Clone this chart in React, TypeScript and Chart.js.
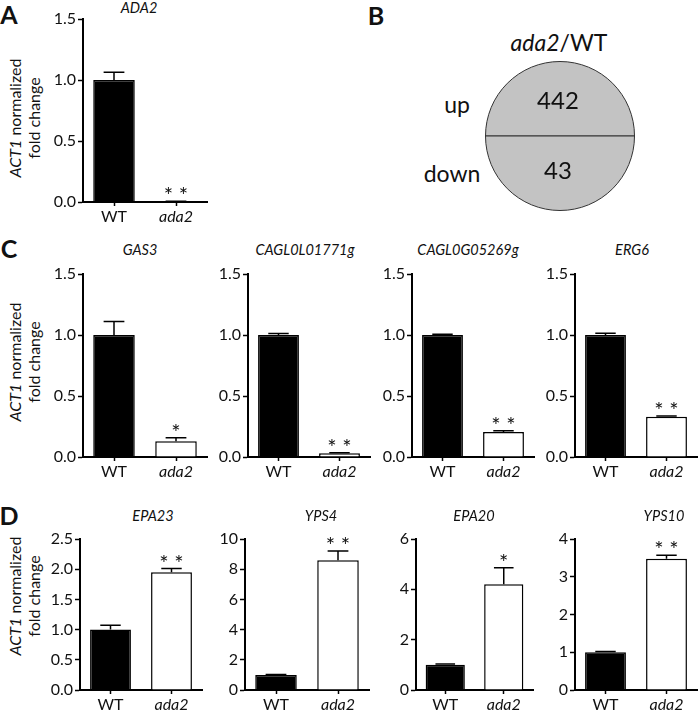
import React, { useEffect, useRef } from 'react';
import { Chart, registerables } from 'chart.js';

Chart.register(...registerables);

const FONT = "Lato, 'Open Sans', sans-serif";

// ---------- data ----------
const groups = ['WT', 'ada2'];

const titleA = 'ADA2';
const meanA = [1.0, 0.004];
const errA = [0.063, 0.002];
const starsA = ['', '* *'];
const yMaxA = 1.5;
const yStepA = 0.5;

const genesC = ['GAS3', 'CAGL0L01771g', 'CAGL0G05269g', 'ERG6'];
const meansC = [[1.0, 0.13], [1.0, 0.03], [1.0, 0.205], [1.0, 0.33]];
const errsC = [[0.11, 0.027], [0.012, 0.004], [0.007, 0.01], [0.014, 0.006]];
const starsC = [['', '*'], ['', '* *'], ['', '* *'], ['', '* *']];
const yMaxC = [1.5, 1.5, 1.5, 1.5];
const yStepC = [0.5, 0.5, 0.5, 0.5];

const genesD = ['EPA23', 'YPS4', 'EPA20', 'YPS10'];
const meansD = [[1.0, 1.95], [1.0, 8.6], [1.0, 4.2], [1.0, 3.48]];
const errsD = [[0.07, 0.06], [0.03, 0.6], [0.03, 0.66], [0.02, 0.09]];
const starsD = [['', '* *'], ['', '* *'], ['', '*'], ['', '* *']];
const yMaxD = [2.5, 10, 6, 4];
const yStepD = [0.5, 2, 2, 1];
const decimalsD = [1, 0, 0, 0];

const vennLabels = ['up', 'down'];
const vennCounts = [442, 43];

// ---------- layout (page pixels) ----------
const boxA = { axisX: 83, axisEnd: 207, top: 19, bottom: 202 };
const boxesC = [
  { axisX: 83, axisEnd: 207, top: 274, bottom: 457 },
  { axisX: 248, axisEnd: 370, top: 274, bottom: 457 },
  { axisX: 412, axisEnd: 534, top: 274, bottom: 457 },
  { axisX: 575, axisEnd: 697, top: 274, bottom: 457 },
];
const boxesD = [
  { axisX: 80, axisEnd: 202, top: 539, bottom: 690 },
  { axisX: 245, axisEnd: 369, top: 539, bottom: 690 },
  { axisX: 416, axisEnd: 533, top: 539, bottom: 690 },
  { axisX: 575, axisEnd: 697, top: 539, bottom: 690 },
];
const titlePosC = [140, 305, 468, 632];
const titlePosD = [153, 321, 474, 664];

type Box = { axisX: number; axisEnd: number; top: number; bottom: number };

function BarPanel(props: {
  box: Box;
  means: number[];
  errs: number[];
  stars: string[];
  yMax: number;
  yStep: number;
  decimals: number;
}) {
  const { box, means, errs, stars, yMax, yStep, decimals } = props;
  const ref = useRef<HTMLCanvasElement>(null);
  const PADL = 64, PADT = 16, PADR = 2, PADB = 34;
  const x0 = box.axisX - PADL;
  const y0 = box.top - PADT;
  const w = box.axisEnd + PADR - x0;
  const h = box.bottom + PADB - y0;

  useEffect(() => {
    const errPlugin = {
      id: 'errbars',
      afterDatasetsDraw(chart: any) {
        const ctx = chart.ctx;
        const meta = chart.getDatasetMeta(0);
        const ys = chart.scales.y;
        ctx.save();
        meta.data.forEach((bar: any, i: number) => {
          const top = ys.getPixelForValue(means[i] + errs[i]);
          const capW = bar.width * 0.5;
          ctx.strokeStyle = '#000';
          ctx.lineWidth = 1.5;
          ctx.beginPath();
          ctx.moveTo(bar.x, bar.y);
          ctx.lineTo(bar.x, top);
          ctx.moveTo(bar.x - capW / 2, top);
          ctx.lineTo(bar.x + capW / 2, top);
          ctx.stroke();
          if (stars[i]) {
            ctx.fillStyle = '#111';
            ctx.font = `22px ${FONT}`;
            ctx.textAlign = 'center';
            ctx.textBaseline = 'alphabetic';
            ctx.fillText(stars[i], bar.x, top + 2);
          }
        });
        ctx.restore();
      },
    };
    const chart = new Chart(ref.current as HTMLCanvasElement, {
      type: 'bar',
      data: {
        labels: groups,
        datasets: [
          {
            data: means,
            backgroundColor: ['#000', '#fff'],
            borderColor: '#000',
            borderWidth: 1.5,
            barPercentage: 0.67,
            categoryPercentage: 1,
          },
        ],
      },
      options: {
        responsive: false,
        animation: false,
        layout: { padding: { top: PADT, right: PADR, left: 0, bottom: 0 } },
        plugins: { legend: { display: false }, tooltip: { enabled: false } },
        scales: {
          x: {
            grid: {
              display: true,
              drawOnChartArea: false,
              offset: false,
              tickLength: 4,
              tickColor: '#000',
              tickWidth: 1.5,
            },
            border: { display: true, color: '#000', width: 2 },
            ticks: {
              color: '#111',
              padding: 1,
              font: (c: any) => ({
                family: FONT,
                size: 16,
                style: c.index === 1 ? 'italic' : 'normal',
              }),
            },
            afterFit: (s: any) => {
              s.height = PADB;
            },
          },
          y: {
            min: 0,
            max: yMax,
            ticks: {
              stepSize: yStep,
              color: '#111',
              padding: 2,
              font: { family: FONT, size: 16 },
              callback: (v: any) => Number(v).toFixed(decimals),
            },
            grid: {
              drawOnChartArea: false,
              tickLength: 5,
              tickColor: '#000',
              tickWidth: 1.5,
            },
            border: { display: true, color: '#000', width: 2 },
            afterFit: (s: any) => {
              s.width = PADL;
            },
          },
        },
      } as any,
      plugins: [errPlugin],
    });
    return () => chart.destroy();
  }, []);

  return (
    <canvas
      ref={ref}
      width={w}
      height={h}
      style={{ position: 'absolute', left: x0, top: y0, width: w, height: h }}
    />
  );
}

function VennPanel() {
  const ref = useRef<HTMLCanvasElement>(null);
  const cx = 560, cy = 136, size = 150;
  useEffect(() => {
    const numPlugin = {
      id: 'nums',
      afterDatasetsDraw(chart: any) {
        const ctx = chart.ctx;
        const meta = chart.getDatasetMeta(0);
        ctx.save();
        ctx.fillStyle = '#111';
        ctx.font = `24px ${FONT}`;
        ctx.textAlign = 'center';
        ctx.textBaseline = 'middle';
        meta.data.forEach((arc: any, i: number) => {
          const p = arc.getCenterPoint();
          ctx.fillText(String(vennCounts[i]), p.x - 2, p.y + (i === 0 ? 3 : -2));
        });
        ctx.restore();
      },
    };
    const chart = new Chart(ref.current as HTMLCanvasElement, {
      type: 'pie',
      data: {
        labels: vennLabels,
        datasets: [
          {
            data: vennCounts.map(() => 1),
            backgroundColor: '#c3c3c3',
            borderColor: '#333',
            borderWidth: 1,
          },
        ],
      },
      options: {
        responsive: false,
        animation: false,
        rotation: -90,
        layout: { padding: 0 },
        plugins: { legend: { display: false }, tooltip: { enabled: false } },
      } as any,
      plugins: [numPlugin],
    });
    return () => chart.destroy();
  }, []);
  return (
    <canvas
      ref={ref}
      width={size}
      height={size}
      style={{ position: 'absolute', left: cx - size / 2, top: cy - size / 2, width: size, height: size }}
    />
  );
}

function Txt(props: { x: number; y: number; size: number; bold?: boolean; italic?: boolean; children: any }) {
  return (
    <div
      style={{
        position: 'absolute',
        left: props.x,
        top: props.y,
        transform: 'translate(-50%, -50%)',
        fontFamily: FONT,
        fontSize: props.size,
        fontWeight: props.bold ? 700 : 400,
        fontStyle: props.italic ? 'italic' : 'normal',
        lineHeight: 1,
        whiteSpace: 'nowrap',
        color: '#111',
      }}
    >
      {props.children}
    </div>
  );
}

function YTitle(props: { y: number }) {
  return (
    <div
      style={{
        position: 'absolute',
        left: 24,
        top: props.y,
        transform: 'translate(-50%, -50%) rotate(-90deg)',
        fontFamily: FONT,
        fontSize: 16,
        lineHeight: '19px',
        textAlign: 'center',
        whiteSpace: 'nowrap',
        color: '#111',
      }}
    >
      <div>
        <i>ACT1</i> normalized
      </div>
      <div>fold change</div>
    </div>
  );
}

export default function App() {
  return (
    <div
      style={{
        position: 'absolute',
        left: 0,
        top: 0,
        width: 700,
        height: 712,
        background: '#fff',
        overflow: 'hidden',
      }}
    >
      {/* panel letters */}
      <Txt x={9} y={14} size={25} bold>A</Txt>
      <Txt x={376} y={15} size={25} bold>B</Txt>
      <Txt x={9} y={248} size={25} bold>C</Txt>
      <Txt x={9} y={515} size={25} bold>D</Txt>

      {/* A */}
      <Txt x={139} y={8} size={14.5} italic>{titleA}</Txt>
      <YTitle y={118} />
      <BarPanel box={boxA} means={meanA} errs={errA} stars={starsA} yMax={yMaxA} yStep={yStepA} decimals={1} />

      {/* B */}
      <Txt x={559} y={42} size={23}>
        <i>ada2</i>/WT
      </Txt>
      <Txt x={457} y={104} size={23}>{vennLabels[0]}</Txt>
      <Txt x={452} y={173} size={23}>{vennLabels[1]}</Txt>
      <VennPanel />

      {/* C */}
      <YTitle y={362} />
      {genesC.map((g, i) => (
        <React.Fragment key={g}>
          <Txt x={titlePosC[i]} y={250} size={14.5} italic>{g}</Txt>
          <BarPanel
            box={boxesC[i]}
            means={meansC[i]}
            errs={errsC[i]}
            stars={starsC[i]}
            yMax={yMaxC[i]}
            yStep={yStepC[i]}
            decimals={1}
          />
        </React.Fragment>
      ))}

      {/* D */}
      <YTitle y={596} />
      {genesD.map((g, i) => (
        <React.Fragment key={g}>
          <Txt x={titlePosD[i]} y={516} size={14.5} italic>{g}</Txt>
          <BarPanel
            box={boxesD[i]}
            means={meansD[i]}
            errs={errsD[i]}
            stars={starsD[i]}
            yMax={yMaxD[i]}
            yStep={yStepD[i]}
            decimals={decimalsD[i]}
          />
        </React.Fragment>
      ))}
    </div>
  );
}
